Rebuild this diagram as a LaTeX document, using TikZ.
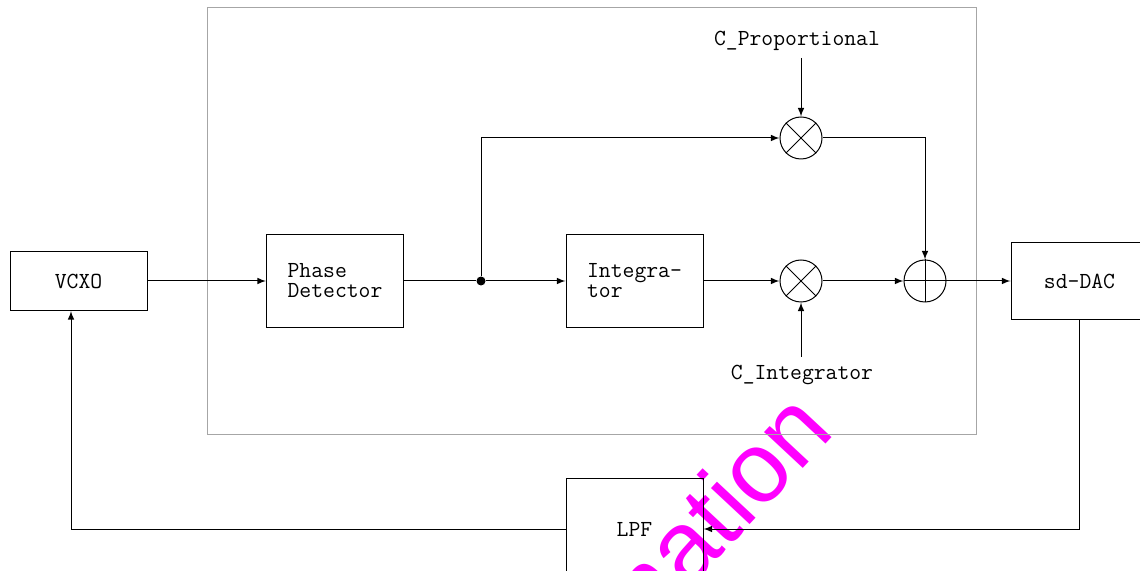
\documentclass[tikz,border=0pt]{standalone}
\usepackage{fontspec}
\newfontfamily\wmfont{Liberation Sans}
\usetikzlibrary{calc,positioning,arrows}
\definecolor{wmcolor}{RGB}{255,0,255}

\begin{document}
\begin{tikzpicture}[x=0.5pt,y=-0.5pt,line width=0.5pt,>=latex,
    every node/.style={font=\ttfamily\fontsize{11.5pt}{10pt}\selectfont},
    block/.style={draw,minimum width=68.5pt,minimum height=46.5pt,align=left},
    mult/.style={draw,circle,minimum size=21pt,inner sep=0pt}]
    \clip (0,0) rectangle (1140,571);

    % watermark
    \node[font=\wmfont\fontsize{50pt}{50pt}\selectfont, text=wmcolor, rotate=47,
          anchor=base east, inner sep=0pt] (wm) at (837,432) {information};

    % loop filter frame
    \draw[gray!70] (207,8) rectangle (976,435);

    \node[block,minimum height=29.5pt] (vcxo) at (78.5,281) {VCXO};
    \node[block] (pd) at (335,281) {Phase\\Detector};
    \node[block] (integ) at (634.5,281) {Integra-\\tor};
    \node[block,minimum height=38.5pt] (dac) at (1079.5,281) {sd-DAC};
    \node[block,minimum height=51pt] (lpf) at (634.5,529) {LPF};

    \node[mult] (m1) at (801,138) {};
    \node[mult] (m2) at (801,281) {};
    \node[mult] (sum) at (925,281) {};
    \draw (m1.north west)--(m1.south east) (m1.north east)--(m1.south west);
    \draw (m2.north west)--(m2.south east) (m2.north east)--(m2.south west);
    \draw (sum.north)--(sum.south) (sum.west)--(sum.east);

    \node (cprop) at (797,41) {C\_Proportional};
    \node (cint) at (802,375) {C\_Integrator};
    \coordinate (cpin) at (801,58);
    \coordinate (ciin) at (801,357);
    \coordinate (vcxoin) at ($(vcxo.south)+(-7.5,0)$);

    \node[circle,fill,minimum size=4.5pt,inner sep=0pt] (dot) at (481,281) {};

    \draw[->] (vcxo) -- (pd);
    \draw (pd) -- (dot);
    \draw[->] (dot) -- (integ);
    \draw[->] (dot) |- (m1);
    \draw[->] (integ) -- (m2);
    \draw[->] (cpin) -- (m1);
    \draw[->] (ciin) -- (m2);
    \draw[->] (m1) -| (sum);
    \draw[->] (m2) -- (sum);
    \draw[->] (sum) -- (dac);
    \draw[->] (dac.south) |- (lpf.east);
    \draw[->] (lpf.west) -| (vcxoin);
\end{tikzpicture}
\end{document}
